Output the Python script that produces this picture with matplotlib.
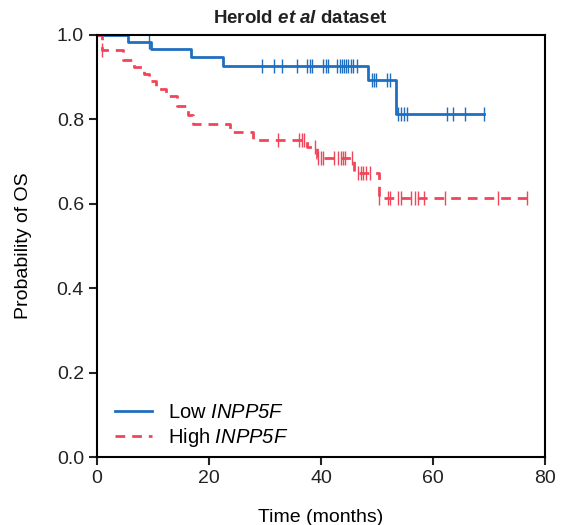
import numpy as np
import matplotlib
matplotlib.use('Agg')
import matplotlib.pyplot as plt

plt.rcParams['font.family'] = ['Liberation Sans', 'DejaVu Sans']
plt.rcParams['mathtext.fontset'] = 'custom'
plt.rcParams['mathtext.it'] = 'Liberation Sans:italic'
plt.rcParams['mathtext.rm'] = 'Liberation Sans:italic'
plt.rcParams['mathtext.bf'] = 'Liberation Sans:bold:italic'

# Kaplan-Meier steps

low_times = [0, 5.5, 9.7, 16.7, 22.5, 48.4, 53.4, 69.1]
low_surv = [1.0, 0.984, 0.966, 0.947, 0.927, 0.893, 0.813, 0.813]
low_censor = [9.3, 29.5, 31.6, 33.0, 35.7, 37.5, 38.0, 38.4, 40.4, 40.9, 41.3, 42.9, 43.3, 43.7,
              44.1, 44.5, 44.9, 45.3, 45.7, 46.4, 49.1, 49.5, 49.9, 51.8, 52.3, 53.8, 54.3,
              54.9, 55.4, 62.5, 63.6, 65.7, 69.1]

high_times = [0, 0.8, 4.7, 6.5, 8.3, 9.3, 10.5, 12.3, 14.2, 16.2, 17.2, 23.8, 27.8, 37.5, 39.3,
              45.8, 50.3, 76.8]
high_surv = [1.0, 0.965, 0.940, 0.925, 0.908, 0.890, 0.872, 0.855, 0.832, 0.810, 0.790, 0.771,
             0.752, 0.735, 0.708, 0.673, 0.614, 0.614]
high_censor = [0.9, 32.3, 36.0, 36.6, 37.0, 38.9, 39.5, 40.0, 40.4, 42.3, 43.0, 43.5, 43.9, 44.3,
               45.5, 46.6, 47.1, 47.5, 48.0, 48.8, 50.4, 52.0, 52.3, 53.7, 54.2, 56.1, 56.7,
               57.3, 58.4, 62.1, 71.6, 76.8]


def surv_at(times, surv, t):
    i = np.searchsorted(times, t, side='right') - 1
    return surv[i]


blue = '#1f6fc0'
red = '#f0465a'

fig = plt.figure(figsize=(5.68, 5.25), dpi=100)
ax = fig.add_axes([0.171, 0.1295, 0.7885, 0.804])

ax.step(low_times, low_surv, where='post', color=blue, linewidth=2, label='Low $\\mathit{INPP5F}$')
ax.plot(low_censor, [surv_at(low_times, low_surv, t) for t in low_censor], linestyle='none',
        marker='|', markersize=10, markeredgewidth=1, color=blue)

ax.step(high_times, high_surv, where='post', color=red, linewidth=2, linestyle=(0, (3.5, 2.5)),
        label='High $\\mathit{INPP5F}$')
ax.plot(high_censor, [surv_at(high_times, high_surv, t) for t in high_censor], linestyle='none',
        marker='|', markersize=10, markeredgewidth=1, color=red)

ax.set_xlim(0, 80)
ax.set_ylim(0, 1.0)
ax.set_xticks([0, 20, 40, 60, 80])
ax.set_yticks([0, 0.2, 0.4, 0.6, 0.8, 1.0])
ax.set_yticklabels(['0.0', '0.2', '0.4', '0.6', '0.8', '1.0'])
ax.tick_params(direction='out', length=6, width=1.5, labelsize=14, colors='#222222')
for s in ax.spines.values():
    s.set_linewidth(1.5)
    s.set_color('black')

ax.set_xlabel('Time (months)', fontsize=14, labelpad=16)
ax.set_ylabel('Probability of OS', fontsize=14, labelpad=18)

fig.text(0.528, 0.948, 'Herold $\\mathbf{et\\ al}$ dataset', ha='center', va='bottom',
         fontsize=13.5, fontweight='bold', color='#222222')

ax.legend(loc='lower left', frameon=False, fontsize=14.5, handlelength=1.8,
          bbox_to_anchor=(0.0, -0.025), labelspacing=0.2, handletextpad=0.8)

fig.savefig('out.png', dpi=100)
